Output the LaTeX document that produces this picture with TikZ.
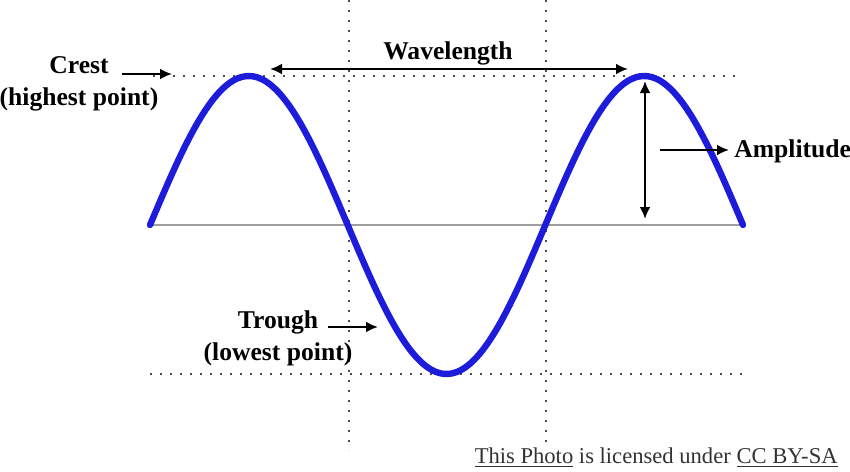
\documentclass[tikz,border=0pt]{standalone}
\usepackage{fontspec}
\setmainfont{Liberation Serif}
\usetikzlibrary{arrows.meta}

\begin{document}
\begin{tikzpicture}[x=0.5pt, y=-0.5pt,
    wave/.style={line width=3.2pt, color=waveblue, line cap=round},
    baseline/.style={line width=1.2pt, color=gray!75},
    guide/.style={line width=1.4pt, color=gray!60!black, dash pattern=on 1.2pt off 3.8pt},
    pointer/.style={line width=1.3pt, -{Latex[length=6pt,width=5.5pt]}},
    span/.style={line width=1.3pt, {Latex[length=6pt,width=5.5pt]}-{Latex[length=6pt,width=5.5pt]}},
    label/.style={font=\fontsize{12.8}{16}\selectfont\bfseries, align=center, inner sep=0pt},
    credit/.style={font=\fontsize{11.3}{13}\selectfont, text=black!80, inner sep=0pt},
    ]
    \definecolor{waveblue}{RGB}{28,28,218}
    \useasboundingbox (0,0) rectangle (850,471);

    % guide lines
    \coordinate (topL) at (153,76);
    \coordinate (topR) at (742,76);
    \coordinate (botL) at (150,374);
    \coordinate (botR) at (746,374);
    \coordinate (v1top) at (349,0);
    \coordinate (v1bot) at (349,450);
    \coordinate (v2top) at (546,0);
    \coordinate (v2bot) at (546,450);
    \draw[guide] (topL) -- (topR);
    \draw[guide] (botL) -- (botR);
    \draw[guide] (v1top) -- (v1bot);
    \draw[guide] (v2top) -- (v2bot);

    % axis and wave
    \coordinate (axisL) at (150,225);
    \coordinate (axisR) at (743,225);
    \draw[baseline] (axisL) -- (axisR);
    \draw[wave] plot[domain=150:743, samples=150, smooth] (\x, {225 - 149*sin((\x-150)/395.33*360)});

    % labels
    \node[label] (crest) at (79,84) {Crest\\(highest point)};
    \node[label] (wavelength) at (448,53) {Wavelength};
    \node[label, anchor=west] (amplitude) at (734,151) {Amplitude};
    \node[label] (trough) at (278,338) {Trough\\(lowest point)};
    \node[credit, anchor=base east] (licence) at (838,463)
        {\underline{This Photo} is licensed under \underline{CC BY-SA}};

    % arrows
    \coordinate (crestA) at (122,74);
    \coordinate (crestB) at (172,74);
    \coordinate (waveA) at (270,69);
    \coordinate (waveB) at (628,69);
    \coordinate (ampTop) at (645,81);
    \coordinate (ampBot) at (645,219);
    \coordinate (ampA) at (660,150);
    \coordinate (ampB) at (729,150);
    \coordinate (troughA) at (328,327);
    \coordinate (troughB) at (378,327);
    \draw[pointer] (crestA) -- (crestB);
    \draw[span] (waveA) -- (waveB);
    \draw[span] (ampTop) -- (ampBot);
    \draw[pointer] (ampA) -- (ampB);
    \draw[pointer] (troughA) -- (troughB);
\end{tikzpicture}
\end{document}
